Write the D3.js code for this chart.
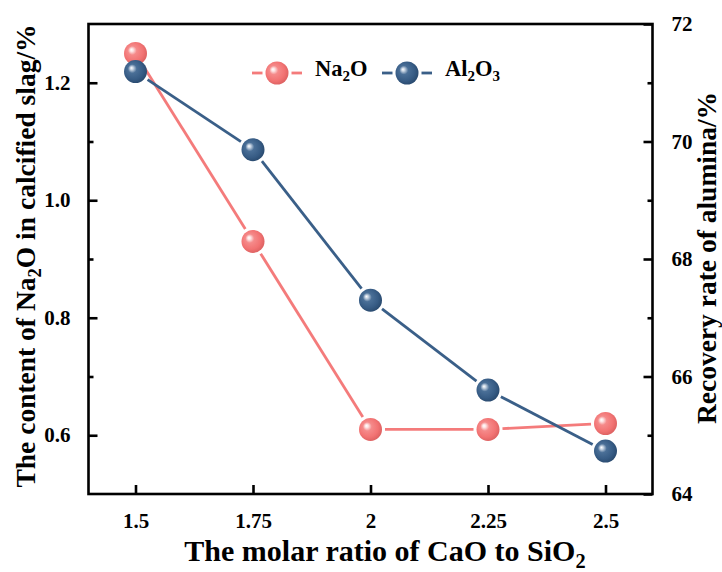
<!DOCTYPE html>
<html>
<head>
<meta charset="utf-8">
<script src="https://cdn.jsdelivr.net/npm/d3@7"></script>
<style>
  body { margin: 0; background: #ffffff; }
  text { font-family: "Liberation Serif", "Times New Roman", serif; font-weight: bold; fill: #000; }
</style>
</head>
<body>
<svg id="chart" width="722" height="572"></svg>
<script>
// Molar ratio of CaO to SiO2 (x categories)
const ratios = [1.5, 1.75, 2, 2.25, 2.5];
const xTickLabels = ["1.5", "1.75", "2", "2.25", "2.5"];
// Na2O content in calcified slag, % (left axis)
const na2oContent = [1.25, 0.93, 0.61, 0.61, 0.62];
// Recovery rate of alumina, % (right axis)
const aluminaRecovery = [71.19, 69.86, 67.30, 65.77, 64.73];
// Axis ticks
const leftTicks = [0.6, 0.8, 1.0, 1.2];
const leftMinorTicks = [0.7, 0.9, 1.1];
const rightTicks = [64, 66, 68, 70, 72];
const rightMinorTicks = [65, 67, 69, 71];

const svg = d3.select("#chart");
const box = { left: 88.5, right: 652.5, top: 24, bottom: 494 };

const x = d3.scaleLinear().domain([1.4, 2.6]).range([box.left, box.right]);
const yL = d3.scaleLinear().domain([0.5, 1.3]).range([box.bottom, box.top]);
const yR = d3.scaleLinear().domain([64, 72]).range([box.bottom, box.top]);

const pink = "#f47b7b", blue = "#3a5f88";
const R = 11.5;

// Sphere-like radial gradients for the markers
const defs = svg.append("defs");
function sphere(id, stops) {
  const g = defs.append("radialGradient").attr("id", id)
    .attr("cx", 0.45).attr("cy", 0.45).attr("r", 0.6)
    .attr("fx", 0.32).attr("fy", 0.34);
  stops.forEach(([o, c]) => g.append("stop").attr("offset", o).attr("stop-color", c));
}
sphere("gPink", [["0%", "#ffffff"], ["12%", "#fde3e3"], ["32%", "#f58a8a"], ["70%", "#f27373"], ["100%", "#d95e5e"]]);
sphere("gBlue", [["0%", "#ffffff"], ["12%", "#c6d3e2"], ["32%", "#4a6f97"], ["70%", "#375c85"], ["100%", "#27476b"]]);

// Axis frame
const frame = svg.append("g");
frame.append("rect")
  .attr("x", box.left).attr("y", box.top)
  .attr("width", box.right - box.left).attr("height", box.bottom - box.top)
  .attr("fill", "none").attr("stroke", "#000").attr("stroke-width", 2.6);

// Inward ticks
const majorLen = 9, minorLen = 5, tickW = 2.6;
const bottomAxis = d3.axisBottom(x).tickValues(ratios).tickFormat((d, i) => xTickLabels[i])
  .tickSizeInner(-majorLen).tickSizeOuter(0).tickPadding(majorLen + 10);
const leftAxis = d3.axisLeft(yL).tickValues(leftTicks).tickFormat(d3.format(".1f"))
  .tickSizeInner(-majorLen).tickSizeOuter(0).tickPadding(majorLen + 9);
const rightAxis = d3.axisRight(yR).tickValues(rightTicks).tickFormat(d3.format("d"))
  .tickSizeInner(-majorLen).tickSizeOuter(0).tickPadding(majorLen + 10);

function styleAxis(g) {
  g.select(".domain").remove();
  g.selectAll(".tick line").attr("stroke", "#000").attr("stroke-width", tickW);
  g.selectAll(".tick text").attr("font-size", 21)
    .attr("font-family", "Liberation Serif, Times New Roman, serif").attr("font-weight", "bold").attr("fill", "#000");
}
svg.append("g").attr("transform", `translate(0,${box.bottom})`).call(bottomAxis).call(styleAxis);
svg.append("g").attr("transform", `translate(${box.left},0)`).call(leftAxis).call(styleAxis);
svg.append("g").attr("transform", `translate(${box.right},0)`).call(rightAxis).call(styleAxis);

// Minor ticks
svg.append("g").attr("transform", `translate(${box.left},0)`)
  .call(d3.axisLeft(yL).tickValues(leftMinorTicks).tickFormat("").tickSizeInner(-minorLen).tickSizeOuter(0))
  .call(styleAxis);
svg.append("g").attr("transform", `translate(${box.right},0)`)
  .call(d3.axisRight(yR).tickValues(rightMinorTicks).tickFormat("").tickSizeInner(-minorLen).tickSizeOuter(0))
  .call(styleAxis);

// Line segments with a small gap around each marker
function gappedSegments(pts, gap) {
  const segs = [];
  for (let i = 0; i < pts.length - 1; i++) {
    const [x1, y1] = pts[i], [x2, y2] = pts[i + 1];
    const len = Math.hypot(x2 - x1, y2 - y1);
    if (len <= 2 * gap) continue;
    const ux = (x2 - x1) / len, uy = (y2 - y1) / len;
    segs.push([x1 + ux * gap, y1 + uy * gap, x2 - ux * gap, y2 - uy * gap]);
  }
  return segs;
}

function drawSeries(values, yScale, color, grad) {
  const pts = ratios.map((r, i) => [x(r), yScale(values[i])]);
  const g = svg.append("g");
  g.selectAll("line").data(gappedSegments(pts, R + 3)).join("line")
    .attr("x1", d => d[0]).attr("y1", d => d[1]).attr("x2", d => d[2]).attr("y2", d => d[3])
    .attr("stroke", color).attr("stroke-width", 2.8);
  g.selectAll("circle").data(pts).join("circle")
    .attr("cx", d => d[0]).attr("cy", d => d[1]).attr("r", R)
    .attr("fill", `url(#${grad})`);
}
drawSeries(na2oContent, yL, pink, "gPink");
drawSeries(aluminaRecovery, yR, blue, "gBlue");

// Legend
function legendItem(cx, cy, color, grad, label, tx) {
  const g = svg.append("g");
  g.append("line").attr("x1", cx - 25).attr("x2", cx - R - 3).attr("y1", cy).attr("y2", cy)
    .attr("stroke", color).attr("stroke-width", 2.8);
  g.append("line").attr("x1", cx + R + 3).attr("x2", cx + 25).attr("y1", cy).attr("y2", cy)
    .attr("stroke", color).attr("stroke-width", 2.8);
  g.append("circle").attr("cx", cx).attr("cy", cy).attr("r", R).attr("fill", `url(#${grad})`);
  const t = g.append("text").attr("x", tx).attr("y", cy + 7.5).attr("font-size", 22.5);
  label.forEach(([s, sub]) => {
    if (sub) t.append("tspan").attr("font-size", 15).attr("dy", 5).text(s);
    else t.append("tspan").attr("dy", t.selectAll("tspan").size() ? -5 : 0).text(s);
  });
  return g;
}
legendItem(277, 73, pink, "gPink", [["Na"], ["2", true], ["O"]], 315);
legendItem(407, 73, blue, "gBlue", [["Al"], ["2", true], ["O"], ["3", true]], 445);

// Axis titles
function richText(parent, parts, size) {
  const t = parent.append("text").attr("text-anchor", "middle").attr("font-size", size);
  let shifted = false;
  parts.forEach(([s, sub]) => {
    const ts = t.append("tspan").text(s);
    if (sub) { ts.attr("font-size", size * 0.68).attr("dy", size * 0.22); shifted = true; }
    else if (shifted) { ts.attr("dy", -size * 0.22); shifted = false; }
  });
  return t;
}
richText(svg.append("g").attr("transform", "translate(385,561)"),
  [["The molar ratio of CaO to SiO"], ["2", true]], 30);
richText(svg.append("g").attr("transform", "translate(35,256) rotate(-90)"),
  [["The content of Na"], ["2", true], ["O in calcified slag/%"]], 27.5);
richText(svg.append("g").attr("transform", "translate(716,258) rotate(-90)"),
  [["Recovery rate of alumina/%"]], 27.5);
</script>
</body>
</html>
